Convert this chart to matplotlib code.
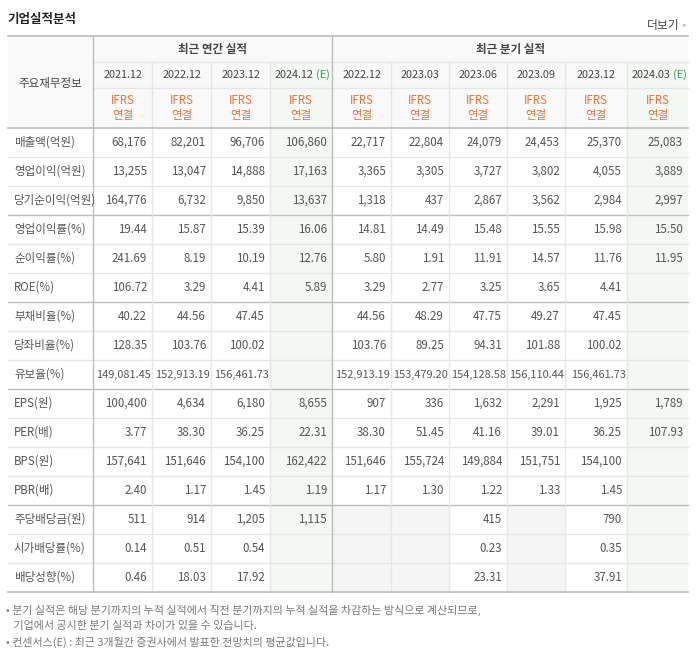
import matplotlib
matplotlib.use("Agg")
import matplotlib.pyplot as plt
from matplotlib.patches import Rectangle

plt.rcParams['font.family'] = ['Noto Sans CJK KR', 'DejaVu Sans']

title = "기업실적분석"
more = "더보기"
group_annual = "최근 연간 실적"
group_quarter = "최근 분기 실적"
row_header = "주요재무정보"
periods = ["2021.12", "2022.12", "2023.12", "2024.12", "2022.12", "2023.03",
           "2023.06", "2023.09", "2023.12", "2024.03"]
estimate = [False, False, False, True, False, False, False, False, False, True]
labels = ["매출액(억원)", "영업이익(억원)", "당기순이익(억원)", "영업이익률(%)", "순이익률(%)",
          "ROE(%)", "부채비율(%)", "당좌비율(%)", "유보율(%)", "EPS(원)", "PER(배)",
          "BPS(원)", "PBR(배)", "주당배당금(원)", "시가배당률(%)", "배당성향(%)"]
values = [
    ["68,176", "82,201", "96,706", "106,860", "22,717", "22,804", "24,079", "24,453", "25,370", "25,083"],
    ["13,255", "13,047", "14,888", "17,163", "3,365", "3,305", "3,727", "3,802", "4,055", "3,889"],
    ["164,776", "6,732", "9,850", "13,637", "1,318", "437", "2,867", "3,562", "2,984", "2,997"],
    ["19.44", "15.87", "15.39", "16.06", "14.81", "14.49", "15.48", "15.55", "15.98", "15.50"],
    ["241.69", "8.19", "10.19", "12.76", "5.80", "1.91", "11.91", "14.57", "11.76", "11.95"],
    ["106.72", "3.29", "4.41", "5.89", "3.29", "2.77", "3.25", "3.65", "4.41", ""],
    ["40.22", "44.56", "47.45", "", "44.56", "48.29", "47.75", "49.27", "47.45", ""],
    ["128.35", "103.76", "100.02", "", "103.76", "89.25", "94.31", "101.88", "100.02", ""],
    ["149,081.45", "152,913.19", "156,461.73", "", "152,913.19", "153,479.20", "154,128.58", "156,110.44", "156,461.73", ""],
    ["100,400", "4,634", "6,180", "8,655", "907", "336", "1,632", "2,291", "1,925", "1,789"],
    ["3.77", "38.30", "36.25", "22.31", "38.30", "51.45", "41.16", "39.01", "36.25", "107.93"],
    ["157,641", "151,646", "154,100", "162,422", "151,646", "155,724", "149,884", "151,751", "154,100", ""],
    ["2.40", "1.17", "1.45", "1.19", "1.17", "1.30", "1.22", "1.33", "1.45", ""],
    ["511", "914", "1,205", "1,115", None, None, "415", None, "790", ""],
    ["0.14", "0.51", "0.54", "", None, None, "0.23", None, "0.35", ""],
    ["0.46", "18.03", "17.92", "", None, None, "23.31", None, "37.91", ""],
]
notes = ["• 분기 실적은 해당 분기까지의 누적 실적에서 직전 분기까지의 누적 실적을 차감하는 방식으로 계산되므로,",
         "   기업에서 공시한 분기 실적과 차이가 있을 수 있습니다.",
         "• 컨센서스(E) : 최근 3개월간 증권사에서 발표한 전망치의 평균값입니다."]

fig = plt.figure(figsize=(6.97, 6.62), dpi=100)
ax = fig.add_axes([0, 0, 1, 1])
ax.set_xlim(0, 697); ax.set_ylim(662, 0); ax.axis('off')

xs = [8, 93, 152, 211, 270, 332, 391, 449, 507, 565, 627, 688]
top, h1, h2, h3 = 36, 62, 88, 128
rh = 29
nrows = len(labels)
bottom = h3 + rh * nrows
grid = '#e6e6e6'; dark = '#bdbdbd'; txt = '#555555'; orange = '#e8743b'
green_bg = '#f3f8f3'; head_bg = '#f9f9f9'; empty_bg = '#f5f5f5'
fs = 8.3

ax.add_patch(Rectangle((xs[0], top), xs[-1] - xs[0], h3 - top, fc=head_bg, ec='none'))
for j in range(10):
    x0, x1 = xs[j + 1], xs[j + 2]
    if estimate[j]:
        ax.add_patch(Rectangle((x0, h1), x1 - x0, bottom - h1, fc=green_bg, ec='none'))
for i, row in enumerate(values):
    for j, v in enumerate(row):
        if v is None:
            x0, x1 = xs[j + 1], xs[j + 2]
            ax.add_patch(Rectangle((x0, h3 + i * rh), x1 - x0, rh, fc=empty_bg, ec='none'))

for i in range(1, nrows):
    y = h3 + i * rh
    thick = i in (3, 6, 9, 13)
    ax.plot([xs[0], xs[-1]], [y, y], color=dark if thick else grid, lw=1.0)
ax.plot([xs[1], xs[-1]], [h1, h1], color=grid, lw=1)
ax.plot([xs[1], xs[-1]], [h2, h2], color=grid, lw=1)
for k in range(2, 11):
    if k == 5:
        continue
    ax.plot([xs[k], xs[k]], [h1, bottom], color=grid, lw=1)
ax.plot([xs[1], xs[1]], [top, bottom], color=dark, lw=1)
ax.plot([xs[5], xs[5]], [top, bottom], color=dark, lw=1)
for y in (top, h3, bottom):
    ax.plot([xs[0], xs[-1]], [y, y], color=dark, lw=1.2)

ax.text(8, 19, title, fontsize=9, fontweight='bold', color='#222222', va='center')
ax.text(680, 25, more, fontsize=8.5, color='#444444', va='center', ha='right')
ax.text(686, 25, "▸", fontsize=5, color='#bbbbbb', va='center', ha='right')
ax.text((xs[1] + xs[5]) / 2, 49, group_annual, fontsize=fs, fontweight='bold', color='#444444', ha='center', va='center')
ax.text((xs[5] + xs[-1]) / 2, 49, group_quarter, fontsize=fs, fontweight='bold', color='#444444', ha='center', va='center')
ax.text((xs[0] + xs[1]) / 2, 83, row_header, fontsize=fs, color='#444444', ha='center', va='center')

for j, p in enumerate(periods):
    cx = (xs[j + 1] + xs[j + 2]) / 2
    if estimate[j]:
        ax.text(cx - 7, 75, p, fontsize=7.8, color='#444444', ha='center', va='center')
        ax.text(cx + 22, 75, "(E)", fontsize=7.8, color='#3a9a5a', ha='center', va='center')
    else:
        ax.text(cx, 75, p, fontsize=7.8, color='#444444', ha='center', va='center')
    ax.text(cx, 101, "IFRS", fontsize=fs, color=orange, ha='center', va='center')
    ax.text(cx, 115, "연결", fontsize=fs, color=orange, ha='center', va='center')

for i, lab in enumerate(labels):
    cy = h3 + i * rh + rh / 2
    ax.text(14, cy, lab, fontsize=fs, color=txt, ha='left', va='center')
    for j, v in enumerate(values[i]):
        if v:
            ax.text(xs[j + 2] - 5 if len(v) < 10 else xs[j + 2] - 1, cy, v,
                    fontsize=fs if len(v) < 10 else 7.9, color=txt, ha='right', va='center')

for k, n in enumerate(notes):
    ax.text(6, 610 + k * 16, n, fontsize=7.9, color='#777777', ha='left', va='center')

fig.savefig("out.png", dpi=100)
